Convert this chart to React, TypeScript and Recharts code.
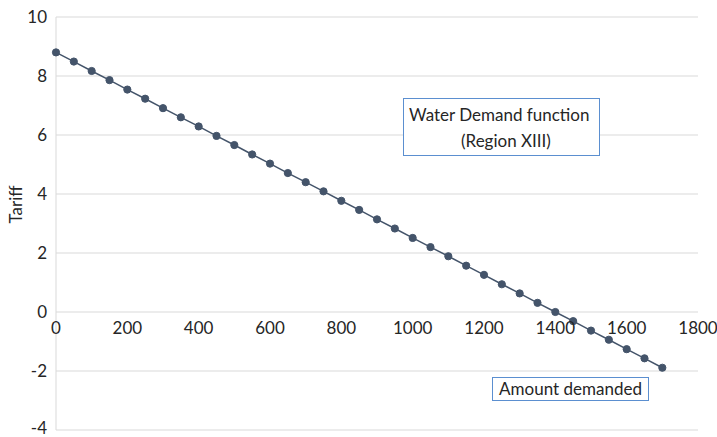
import { LineChart, Line, XAxis, YAxis, CartesianGrid } from "recharts";

const amounts = [
  0, 50, 100, 150, 200, 250, 300, 350, 400, 450, 500, 550, 600, 650, 700, 750, 800, 850,
  900, 950, 1000, 1050, 1100, 1150, 1200, 1250, 1300, 1350, 1400, 1450, 1500, 1550, 1600, 1650, 1700,
];
const tariffs = [
  8.8, 8.49, 8.17, 7.86, 7.54, 7.23, 6.91, 6.6, 6.29, 5.97, 5.66, 5.34, 5.03, 4.71, 4.4, 4.09, 3.77, 3.46,
  3.14, 2.83, 2.51, 2.2, 1.89, 1.57, 1.26, 0.94, 0.63, 0.31, 0, -0.31, -0.63, -0.94, -1.26, -1.57, -1.89,
];
const xTicks = [0, 200, 400, 600, 800, 1000, 1200, 1400, 1600, 1800];
const yTicks = [-4, -2, 0, 2, 4, 6, 8, 10];

const data = amounts.map((x, i) => ({ x, tariff: tariffs[i] }));

const W = 717;
const H = 437;
const xAxisH = 10;
const margin = { top: 17, right: 19, bottom: 7 - xAxisH, left: 0 };
const plotH = 430 - 17;
const yMin = yTicks[0];
const yMax = yTicks[yTicks.length - 1];
// x axis crosses at tariff = 0, so lift the labels to that line
const zeroLift = ((0 - yMin) / (yMax - yMin)) * plotH;

const font = "Lato, 'Open Sans', sans-serif";
const textColor = "#262626";
const fs = 17;

function renderXTick(props: any) {
  const { x, y, payload } = props;
  return (
    <text key={payload.value} x={x} y={y - zeroLift + 22} textAnchor="middle" fontSize={fs} fontFamily={font} fill={textColor}>
      {payload.value}
    </text>
  );
}

function renderYTick(props: any) {
  const { x, y, payload } = props;
  return (
    <text key={payload.value} x={x} y={y} dy={payload.value === yMin ? 4 : 6} textAnchor="end" fontSize={fs} fontFamily={font} fill={textColor}>
      {payload.value}
    </text>
  );
}

export default function App() {
  return (
    <div style={{ position: "absolute", left: 0, top: 0, width: W, height: H, background: "#fff" }}>
      <LineChart width={W} height={H} data={data} margin={margin}>
        <CartesianGrid vertical={false} stroke="#d9d9d9" />
        <XAxis
          dataKey="x"
          type="number"
          domain={[0, 1800]}
          ticks={xTicks}
          height={xAxisH}
          axisLine={false}
          tickLine={false}
          tickSize={0}
          tickMargin={0}
          tick={renderXTick}
          interval={0}
        />
        <YAxis
          domain={[yMin, yMax]}
          ticks={yTicks}
          width={56}
          axisLine={{ stroke: "#d9d9d9" }}
          tickLine={false}
          tickSize={0}
          tickMargin={9}
          tick={renderYTick}
          interval={0}
          label={{ value: "Tariff", angle: -90, position: "insideLeft", offset: 16, fontSize: fs, fontFamily: font, fill: textColor }}
        />
        <Line
          dataKey="tariff"
          stroke="#44546a"
          strokeWidth={1.5}
          dot={{ r: 3.6, fill: "#44546a", stroke: "#44546a", strokeWidth: 1 }}
          isAnimationActive={false}
        />
      </LineChart>
      <div
        style={{
          position: "absolute",
          left: 403,
          top: 98,
          width: 197,
          height: 58,
          border: "1px solid #5b8fd0",
          background: "#fff",
          fontFamily: font,
          fontSize: fs,
          color: textColor,
          boxSizing: "border-box",
        }}
      >
        <div style={{ position: "absolute", left: 5, top: 5, whiteSpace: "nowrap" }}>Water Demand function</div>
        <div style={{ position: "absolute", left: 57, top: 31, whiteSpace: "nowrap" }}>(Region XIII)</div>
      </div>
      <div
        style={{
          position: "absolute",
          left: 492,
          top: 377,
          width: 157,
          height: 24,
          border: "1px solid #5b8fd0",
          background: "#fff",
          fontFamily: font,
          fontSize: fs,
          color: textColor,
          boxSizing: "border-box",
          textAlign: "center",
          lineHeight: "22px",
          whiteSpace: "nowrap",
        }}
      >
        Amount demanded
      </div>
    </div>
  );
}
